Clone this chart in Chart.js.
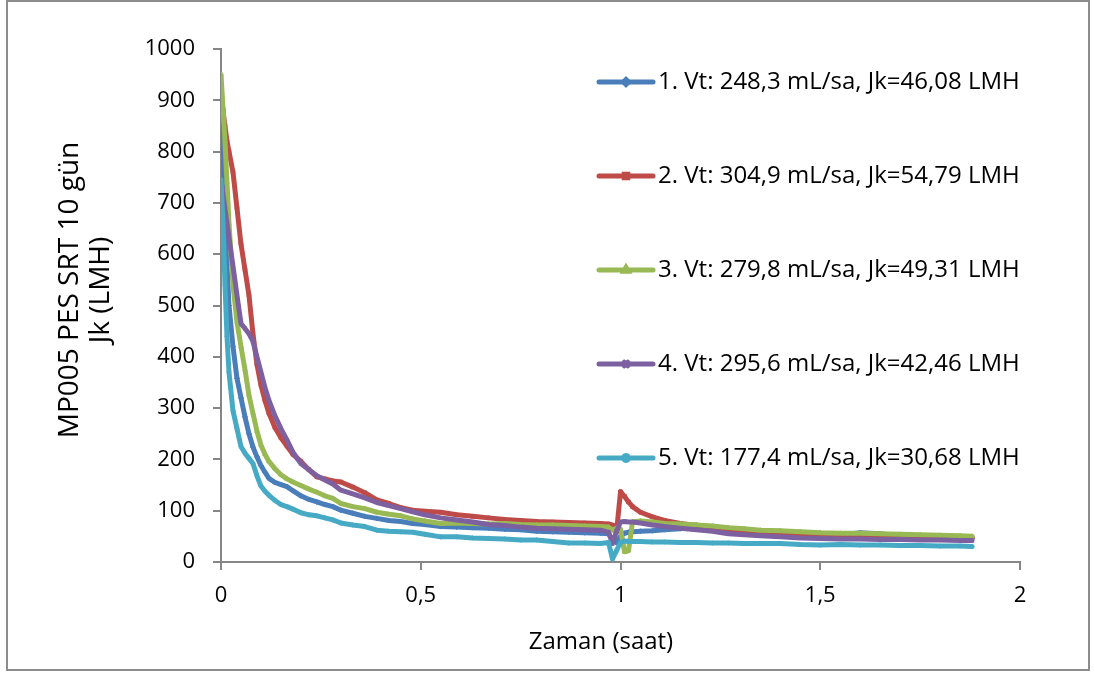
<!DOCTYPE html>
<html lang="tr">
<head>
<meta charset="utf-8">
<title>MP005 PES SRT 10 gün</title>
<script src="https://cdn.jsdelivr.net/npm/chart.js@4.4.1/dist/chart.umd.min.js"></script>
<style>
  html, body { margin: 0; padding: 0; background: #fff; }
  #kutu { position: relative; width: 1094px; height: 677px; }
</style>
</head>
<body>
<div id="kutu"><canvas id="akiGrafik"></canvas></div>
<script>
'use strict';

/*=====Veriler=================*/
const zaman = [0, 0.005, 0.01, 0.015, 0.02, 0.03, 0.04, 0.05, 0.06, 0.07,
  0.08, 0.09, 0.10, 0.11, 0.12, 0.135, 0.15, 0.165, 0.18, 0.20,
  0.22, 0.24, 0.26, 0.28, 0.30, 0.33, 0.36, 0.39, 0.42, 0.45,
  0.48, 0.51, 0.55, 0.59, 0.63, 0.67, 0.71, 0.75, 0.79, 0.83,
  0.87, 0.91, 0.95, 0.97, 0.98, 0.99, 1.00, 1.01, 1.02, 1.03,
  1.05, 1.08, 1.11, 1.15, 1.19, 1.23, 1.27, 1.31, 1.35, 1.40,
  1.45, 1.50, 1.55, 1.60, 1.65, 1.70, 1.75, 1.80, 1.85, 1.88];

const seri1 = [850, 760, 660, 580, 500, 420, 358, 320, 283, 250,
  224, 205, 188, 175, 163, 155, 151, 147, 139, 129,
  122, 117, 112, 108, 101, 95, 89, 85, 81, 79,
  75, 73, 69, 68, 67, 66, 64, 63, 60, 59,
  58, 57, 56, 55, 44, 38, 50, 56, 58, 59,
  60, 61, 63, 65, 72, 63, 62, 60, 58, 56,
  54, 53, 52, 57, 55, 50, 49, 48, 47, 46];

const seri2 = [915, 880, 850, 820, 800, 760, 690, 620, 570, 520,
  445, 385, 345, 315, 290, 262, 242, 226, 210, 196,
  180, 166, 162, 158, 156, 146, 135, 121, 114, 106,
  101, 99, 97, 92, 89, 86, 83, 81, 79, 78,
  77, 76, 75, 74, 72, 58, 137, 128, 117, 108,
  97, 88, 81, 75, 71, 68, 65, 61, 58, 56,
  55, 54, 53, 52, 51, 50, 50, 49, 48, 48];

const seri3 = [950, 885, 820, 740, 660, 540, 468, 420, 375, 325,
  290, 255, 228, 210, 196, 182, 170, 162, 156, 149,
  142, 136, 129, 124, 114, 108, 104, 97, 93, 90,
  84, 80, 75, 76, 75, 74, 75, 73, 72, 72,
  71, 70, 69, 68, 62, 66, 64, 20, 22, 78,
  80, 78, 75, 74, 72, 70, 67, 65, 62, 61,
  59, 57, 56, 56, 55, 54, 53, 52, 51, 50];

const seri4 = [745, 717, 688, 660, 632, 577, 520, 465, 455, 445,
  430, 400, 370, 340, 315, 285, 260, 238, 214, 192,
  180, 168, 160, 152, 140, 133, 125, 116, 110, 104,
  98, 92, 86, 82, 78, 73, 71, 68, 66, 65,
  64, 63, 62, 58, 36, 60, 78, 79, 78, 78,
  76, 72, 69, 66, 63, 60, 55, 53, 51, 49,
  47, 46, 45, 45, 44, 44, 43, 43, 42, 42];

const seri5 = [745, 660, 540, 440, 370, 295, 260, 225, 212, 202,
  192, 168, 148, 138, 130, 120, 112, 108, 103, 96,
  92, 90, 86, 82, 76, 72, 69, 62, 60, 59,
  58, 54, 49, 49, 47, 46, 45, 43, 43, 40,
  37, 37, 36, 38, 6, 22, 38, 41, 40, 40,
  40, 39, 39, 38, 38, 37, 37, 36, 36, 36,
  34, 33, 34, 33, 33, 32, 32, 31, 31, 30];

const seriler = [seri1, seri2, seri3, seri4, seri5];

const etiketler = [
  '1. Vt: 248,3 mL/sa, Jk=46,08 LMH',
  '2. Vt: 304,9 mL/sa, Jk=54,79 LMH',
  '3. Vt: 279,8 mL/sa, Jk=49,31 LMH',
  '4. Vt: 295,6 mL/sa, Jk=42,46 LMH',
  '5. Vt: 177,4 mL/sa, Jk=30,68 LMH'
];

const renkler = ['#4A7EBB', '#BE4B48', '#98B954', '#7D60A0', '#46AAC5'];
const isaretler = ['rectRot', 'rect', 'triangle', 'crossRot', 'star'];

const xTikler = [0, 0.5, 1, 1.5, 2];
const yBaslik = ['MP005 PES SRT 10 gün', 'Jk (LMH)'];
const xBaslik = 'Zaman (saat)';

const YAZI = '"Open Sans", "Noto Sans", sans-serif';
const EKSEN_RENGI = '#868686';

/*=====Çerçeve ve beyaz zemin=================*/
const cercevePlugin = {
  id: 'cerceve',
  beforeDraw(chart) {
    const c = chart.ctx;
    c.save();
    c.fillStyle = '#fff';
    c.fillRect(0, 0, chart.width, chart.height);
    c.strokeStyle = '#8c8c8c';
    c.lineWidth = 2;
    c.strokeRect(7, 1, chart.width - 12, chart.height - 8);
    c.restore();
  }
};

/*=====Eksen başlıkları=================*/
const baslikPlugin = {
  id: 'basliklar',
  afterDraw(chart) {
    const c = chart.ctx;
    c.save();
    c.fillStyle = '#000';
    c.textAlign = 'center';
    c.textBaseline = 'middle';

    // yatay eksen
    c.font = '24px ' + YAZI;
    c.fillText(xBaslik, 601, 642);

    // dikey eksen, iki satır
    c.translate(70, 290);
    c.rotate(-Math.PI / 2);
    c.font = '28px ' + YAZI;
    yBaslik.forEach((satir, i) => c.fillText(satir, 0, i * 31));
    c.restore();
  }
};

/*=====Grafik içindeki lejant=================*/
const lejantPlugin = {
  id: 'lejant',
  afterDraw(chart) {
    const c = chart.ctx;
    c.save();
    chart.data.datasets.forEach((ds, i) => {
      const y = 82 + i * 94;
      c.strokeStyle = ds.borderColor;
      c.lineWidth = 5;
      c.lineCap = 'round';
      c.beginPath();
      c.moveTo(599, y);
      c.lineTo(653, y);
      c.stroke();
      if (Chart.helpers && Chart.helpers.drawPoint) {
        c.fillStyle = ds.borderColor;
        Chart.helpers.drawPoint(c, {pointStyle: ds.pointStyle, radius: 2.5, borderWidth: 1, rotation: 0}, 626, y);
      }
      c.fillStyle = '#000';
      c.font = '24px ' + YAZI;
      c.textAlign = 'left';
      c.textBaseline = 'middle';
      c.fillText(ds.label, 658, y);
    });
    c.restore();
  }
};

/*=====Veri kümeleri=================*/
const veriKumeleri = seriler.map((seri, i) => ({
  label: etiketler[i],
  data: seri.map((v, k) => ({x: zaman[k], y: v})),
  borderColor: renkler[i],
  backgroundColor: renkler[i],
  pointBackgroundColor: renkler[i],
  pointBorderColor: renkler[i],
  pointStyle: isaretler[i],
  pointRadius: 2.5,
  pointBorderWidth: 1,
  pointHoverRadius: 0,
  borderWidth: 5,
  borderJoinStyle: 'round',
  borderCapStyle: 'round',
  tension: 0,
  fill: false,
  order: seriler.length - i
}));

/*=====Grafiği çiz=================*/
const ctx = document.getElementById('akiGrafik').getContext('2d');

const akiGrafik = new Chart(ctx, {
  type: 'line',
  data: { datasets: veriKumeleri },
  options: {
    responsive: true,
    maintainAspectRatio: false,
    animation: false,
    events: [],
    layout: {
      padding: { top: 49, right: 74, bottom: 0, left: 0 }
    },
    plugins: {
      legend: { display: false },
      tooltip: { enabled: false }
    },
    scales: {
      x: {
        type: 'linear',
        min: 0,
        max: 2,
        afterBuildTicks: axis => { axis.ticks = xTikler.map(v => ({value: v})); },
        afterFit: scale => { scale.height = 115; },
        ticks: {
          autoSkip: false,
          maxRotation: 0,
          padding: 13,
          color: '#000',
          font: { family: YAZI, size: 22 },
          callback: v => String(v).replace('.', ',')
        },
        grid: {
          drawOnChartArea: false,
          tickLength: 8,
          color: EKSEN_RENGI,
          lineWidth: 2
        },
        border: { color: EKSEN_RENGI, width: 2 }
      },
      y: {
        min: 0,
        max: 1000,
        afterFit: scale => { scale.width = 221; },
        ticks: {
          stepSize: 100,
          padding: 18,
          color: '#000',
          font: { family: YAZI, size: 22 },
          callback: v => String(v)
        },
        grid: {
          drawOnChartArea: false,
          tickLength: 8,
          color: EKSEN_RENGI,
          lineWidth: 2
        },
        border: { color: EKSEN_RENGI, width: 2 }
      }
    }
  },
  plugins: [cercevePlugin, baslikPlugin, lejantPlugin]
});
</script>
</body>
</html>
